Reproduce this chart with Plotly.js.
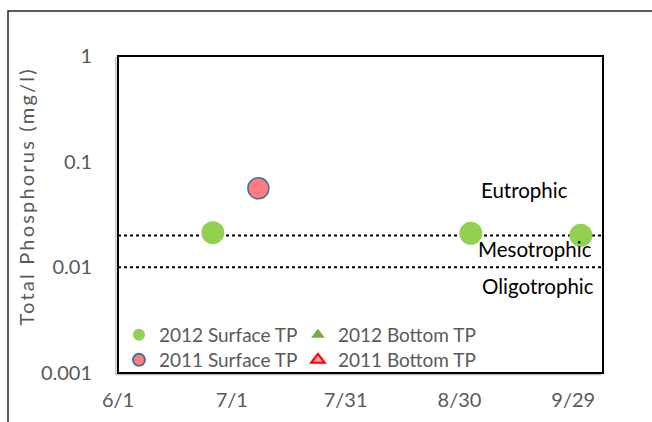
<!DOCTYPE html>
<html><head><meta charset="utf-8">
<script src="https://cdn.plot.ly/plotly-3.0.1.min.js"></script>
<style>html,body{margin:0;padding:0;background:#fff;} #chart{width:652px;height:422px;}
.annotation[data-index="3"] text{letter-spacing:2.2px;}
</style>
</head><body><div id="chart"></div>
<script>
// ---- data ----
const surface2012Dates = ['2012-06-26', '2012-09-02', '2012-10-01'];
const surface2012TP = [0.0213, 0.0210, 0.0201];
const bottom2012Dates = [null];
const bottom2012TP = [null];
const surface2011Dates = ['2012-07-08'];
const surface2011TP = [0.056];
const bottom2011Dates = [null];
const bottom2011TP = [null];
const thresholdValues = [0.02, 0.01];
const trophicLabels = ['Eutrophic', 'Mesotrophic', 'Oligotrophic'];
const xTickVals = ['2012-06-01', '2012-07-01', '2012-07-31', '2012-08-30', '2012-09-29'];
const xTickText = ['6/1', '7/1', '7/31', '8/30', '9/29'];
const yTickVals = [0.001, 0.01, 0.1, 1];
const yTickText = ['0.001', '0.01', '0.1', '1'];
const yTitle = 'Total Phosphorus (mg/l)';

// ---- style ----
const FONT = 'Lato, Carlito, Calibri, sans-serif';
const GRAY = '#595959';

const traces = [
  {x: surface2012Dates, y: surface2012TP, name: '2012 Surface TP', type: 'scatter', mode: 'markers',
   marker: {symbol: 'circle', size: 23, color: '#92D050', line: {width: 0}}, legend: 'legend'},
  {x: bottom2012Dates, y: bottom2012TP, name: '2012 Bottom TP', type: 'scatter', mode: 'markers',
   marker: {symbol: 'triangle-up', size: 14, color: '#70AD47', line: {width: 0}}, legend: 'legend2'},
  {x: surface2011Dates, y: surface2011TP, name: '2011 Surface TP', type: 'scatter', mode: 'markers',
   marker: {symbol: 'circle', size: 21, color: '#FF7C80', line: {width: 1.5, color: '#41719C'}}, legend: 'legend3'},
  {x: bottom2011Dates, y: bottom2011TP, name: '2011 Bottom TP', type: 'scatter', mode: 'markers',
   marker: {symbol: 'triangle-up', size: 13, color: '#FF9F9F', line: {width: 1.5, color: '#FF0000'}}, legend: 'legend4'}
];

const shapes = thresholdValues.map(v => ({
  type: 'line', xref: 'paper', x0: 0, x1: 1, yref: 'y', y0: v, y1: v,
  line: {color: '#000', width: 2, dash: 'dot'}, layer: 'below'
}));
// plot area frame (with light shadow on left/bottom)
shapes.push({type: 'path', xref: 'paper', yref: 'paper',
  path: 'M -0.0045 0.997 L -0.0045 -0.0055 L 0.997 -0.0055', line: {color: '#A6A6A6', width: 1}});
shapes.push({type: 'rect', xref: 'paper', yref: 'paper', x0: 0, x1: 1, y0: 0, y1: 1,
  line: {color: '#000', width: 2}});
// outer chart frame (left and top edges visible in the crop)
shapes.push({type: 'path', xref: 'paper', yref: 'paper',
  path: 'M -0.2268 -0.2 L -0.2268 1.142 L 1.2 1.142', line: {color: '#262626', width: 1.5}});

const labelPos = [[0.839, 0.577], [0.860, 0.391], [0.866, 0.274]];
const annotations = trophicLabels.map((t, i) => ({
  text: t, xref: 'paper', yref: 'paper', x: labelPos[i][0], y: labelPos[i][1],
  xanchor: 'center', yanchor: 'middle', showarrow: false,
  font: {family: FONT, size: 20.5, color: '#000'}
}));
annotations.push({text: yTitle, xref: 'paper', yref: 'paper', x: -0.188, y: 0.557,
  xanchor: 'center', yanchor: 'middle', textangle: -90, showarrow: false,
  font: {family: FONT, size: 20, color: GRAY}});

const legendBase = {orientation: 'h', xanchor: 'left', yanchor: 'middle',
  bgcolor: 'rgba(0,0,0,0)', borderwidth: 0, itemsizing: 'constant',
  font: {family: FONT, size: 19, color: GRAY}};
const colX = [0.002, 0.371];
const rowY = [0.12, 0.041];

const layout = {
  width: 652, height: 422,
  margin: {l: 118, r: 49, t: 56, b: 49, pad: 0},
  paper_bgcolor: '#fff', plot_bgcolor: '#fff',
  font: {family: FONT, color: GRAY},
  showlegend: true,
  legend: Object.assign({}, legendBase, {x: colX[0], y: rowY[0]}),
  legend2: Object.assign({}, legendBase, {x: colX[1], y: rowY[0]}),
  legend3: Object.assign({}, legendBase, {x: colX[0], y: rowY[1]}),
  legend4: Object.assign({}, legendBase, {x: colX[1], y: rowY[1]}),
  xaxis: {type: 'date', range: ['2012-06-01', '2012-10-06 20:00'],
    tickvals: xTickVals, ticktext: xTickText, showgrid: false, zeroline: false, showline: false,
    ticks: 'outside', ticklen: 9, tickcolor: 'rgba(0,0,0,0)',
    tickfont: {family: FONT, size: 20, color: GRAY}},
  yaxis: {type: 'log', range: [-3, 0], tickvals: yTickVals, ticktext: yTickText,
    showgrid: false, zeroline: false, showline: false,
    ticks: 'outside', ticklen: 21, tickcolor: 'rgba(0,0,0,0)',
    tickfont: {family: FONT, size: 20, color: GRAY}},
  shapes: shapes,
  annotations: annotations
};

Plotly.newPlot('chart', traces, layout, {displayModeBar: false, staticPlot: true});
</script>
</body></html>
